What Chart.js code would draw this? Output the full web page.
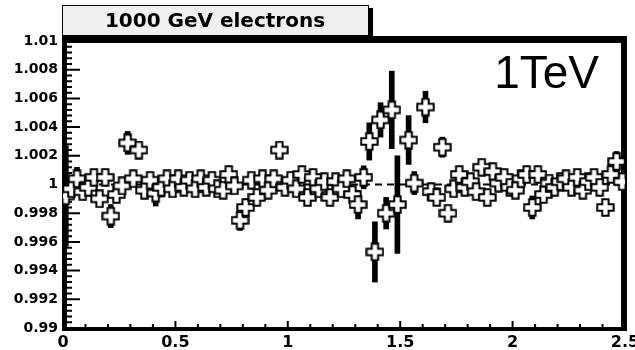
<!DOCTYPE html>
<html>
<head>
<meta charset="utf-8">
<script src="https://cdn.jsdelivr.net/npm/chart.js@4.4.0/dist/chart.umd.min.js"></script>
<style>
body { margin: 0; background: #fff; }
#wrap { width: 635px; height: 350px; }
</style>
</head>
<body>
<div id="wrap"><canvas id="ratio_chart" width="635" height="350"></canvas></div>
<script>
// CHART DATA
const binCenters = [
	0.0125, 0.0375, 0.0625, 0.0875, 0.1125, 0.1375, 0.1625, 0.1875, 0.2125, 0.2375,
	0.2625, 0.2875, 0.3125, 0.3375, 0.3625, 0.3875, 0.4125, 0.4375, 0.4625, 0.4875,
	0.5125, 0.5375, 0.5625, 0.5875, 0.6125, 0.6375, 0.6625, 0.6875, 0.7125, 0.7375,
	0.7625, 0.7875, 0.8125, 0.8375, 0.8625, 0.8875, 0.9125, 0.9375, 0.9625, 0.9875,
	1.0125, 1.0375, 1.0625, 1.0875, 1.1125, 1.1375, 1.1625, 1.1875, 1.2125, 1.2375,
	1.2625, 1.2875, 1.3125, 1.3375, 1.3625, 1.3875, 1.4125, 1.4375, 1.4625, 1.4875,
	1.5125, 1.5375, 1.5625, 1.5875, 1.6125, 1.6375, 1.6625, 1.6875, 1.7125, 1.7375,
	1.7625, 1.7875, 1.8125, 1.8375, 1.8625, 1.8875, 1.9125, 1.9375, 1.9625, 1.9875,
	2.0125, 2.0375, 2.0625, 2.0875, 2.1125, 2.1375, 2.1625, 2.1875, 2.2125, 2.2375,
	2.2625, 2.2875, 2.3125, 2.3375, 2.3625, 2.3875, 2.4125, 2.4375, 2.4625, 2.4875
];
const ratioValues = [
	0.9992, 0.9997, 1.0004, 0.9995, 0.9998, 1.0005, 0.9990, 1.0005, 0.9978, 0.9993,
	0.9999, 1.0029, 1.0004, 1.0024, 0.9996, 1.0003, 0.9994, 0.9998, 1.0004, 0.9997,
	1.0004, 0.9998, 1.0003, 0.9997, 1.0004, 0.9998, 1.0003, 0.9997, 0.9996, 1.0007,
	0.9999, 0.9975, 0.9984, 1.0003, 0.9991, 1.0004, 0.9996, 1.0004, 1.0024, 0.9998,
	1.0003, 0.9997, 1.0007, 0.9991, 1.0005, 0.9997, 1.0002, 0.9991, 1.0002, 0.9997,
	1.0004, 0.9993, 0.9986, 1.0005, 1.0030, 0.9953, 1.0045, 0.9980, 1.0052, 0.9986,
	null, 1.0031, 1.0001, null, 1.0054, 0.9995, 0.9991, 1.0026, 0.9980, 0.9997,
	1.0007, 0.9998, 1.0002, 0.9995, 1.0012, 0.9991, 1.0009, 1.0001, 1.0005, 0.9998,
	0.9996, 1.0004, 1.0007, 0.9984, 1.0007, 0.9993, 1.0001, 0.9998, 1.0002, 1.0004,
	0.9998, 1.0005, 0.9996, 1.0002, 1.0005, 0.9998, 0.9984, 1.0007, 1.0016, 1.0002
];
const ratioErrors = [
	0.0035, 0.0003, 0.0008, 0.0003, 0.0003, 0.0003, 0.0003, 0.0003, 0.0008, 0.0003,
	0.0003, 0.0008, 0.0003, 0.0006, 0.0003, 0.0003, 0.0009, 0.0003, 0.0003, 0.0003,
	0.0003, 0.0003, 0.0003, 0.0003, 0.0003, 0.0003, 0.0003, 0.0003, 0.0003, 0.0003,
	0.0003, 0.0007, 0.0006, 0.0003, 0.0003, 0.0003, 0.0003, 0.0003, 0.0004, 0.0003,
	0.0003, 0.0003, 0.0003, 0.0003, 0.0003, 0.0003, 0.0003, 0.0003, 0.0003, 0.0003,
	0.0003, 0.0005, 0.0010, 0.0008, 0.0013, 0.0021, 0.0012, 0.0011, 0.0027, 0.0034,
	null, 0.0017, 0.0008, null, 0.0011, 0.0003, 0.0003, 0.0007, 0.0005, 0.0003,
	0.0003, 0.0003, 0.0003, 0.0003, 0.0003, 0.0003, 0.0003, 0.0003, 0.0003, 0.0003,
	0.0003, 0.0003, 0.0003, 0.0008, 0.0003, 0.0003, 0.0003, 0.0003, 0.0003, 0.0003,
	0.0003, 0.0003, 0.0003, 0.0003, 0.0003, 0.0003, 0.0003, 0.0003, 0.0007, 0.0003
];
const referenceLevel = 1;
const xRange = [0, 2.5];
const yRange = [0.99, 1.01];
const titleText = '1000 GeV electrons';
const energyText = '1TeV';

// BUILD DATASETS
let marker_points = [], error_bars = [];
binCenters.forEach((x, i) => {
	if (ratioValues[i] === null) return;
	marker_points.push({ x: x, y: ratioValues[i] });
	error_bars.push({ x: x, y: [ratioValues[i] - ratioErrors[i], ratioValues[i] + ratioErrors[i]] });
});

// OPEN CROSS MARKER (root style 28)
function makeCross() {
	const c = document.createElement('canvas');
	c.width = 19; c.height = 19;
	const g = c.getContext('2d');
	const m = 9.5, a = 3.2, l = 8.2;
	g.beginPath();
	g.moveTo(m - a, m - l); g.lineTo(m + a, m - l); g.lineTo(m + a, m - a);
	g.lineTo(m + l, m - a); g.lineTo(m + l, m + a); g.lineTo(m + a, m + a);
	g.lineTo(m + a, m + l); g.lineTo(m - a, m + l); g.lineTo(m - a, m + a);
	g.lineTo(m - l, m + a); g.lineTo(m - l, m - a); g.lineTo(m - a, m - a);
	g.closePath();
	g.fillStyle = '#fff';
	g.fill();
	g.lineWidth = 2;
	g.strokeStyle = '#000';
	g.stroke();
	return c;
}

// FRAME, TICKS AND TEXTS
const rootStyle = {
	id: 'rootStyle',
	beforeDatasetsDraw(chart) {
		const { ctx, chartArea: a, scales } = chart;
		ctx.save();
		ctx.fillStyle = '#000';
		ctx.fillRect(a.left - 1, a.top - 5, a.right - a.left + 3, 7);
		ctx.fillRect(a.left - 1, a.top - 5, 5, a.bottom - a.top + 8);
		ctx.fillRect(a.left - 1, a.bottom - 1, a.right - a.left + 3, 4);
		ctx.fillRect(a.right - 4, a.top - 5, 6, a.bottom - a.top + 8);

		ctx.strokeStyle = '#000';
		ctx.lineWidth = 2;
		ctx.beginPath();
		for (let k = 0; k <= 25; k++) {
			const px = scales.x.getPixelForValue(k * 0.1);
			const len = k % 5 === 0 ? 7 : 4;
			ctx.moveTo(px, a.bottom);
			ctx.lineTo(px, a.bottom - len);
		}
		for (let k = 0; k <= 50; k++) {
			const py = scales.y.getPixelForValue(yRange[0] + k * 0.0004);
			const len = k % 5 === 0 ? 17 : 9;
			ctx.moveTo(a.left, py);
			ctx.lineTo(a.left + len, py);
		}
		ctx.stroke();
		ctx.restore();
	},
	afterDraw(chart) {
		const { ctx } = chart;
		ctx.save();
		ctx.fillStyle = '#000';
		ctx.fillRect(368, 8, 5, 30);
		ctx.fillStyle = '#f0f0f0';
		ctx.fillRect(62, 5, 306, 31);
		ctx.strokeStyle = '#000';
		ctx.lineWidth = 1;
		ctx.strokeRect(62.5, 5.5, 306, 30);
		ctx.fillStyle = '#000';
		ctx.textAlign = 'center';
		ctx.textBaseline = 'alphabetic';
		ctx.font = 'bold 20px "DejaVu Sans"';
		ctx.fillText(titleText, 215, 27);
		ctx.textAlign = 'right';
		ctx.font = '46px "Liberation Sans"';
		ctx.fillText(energyText, 599, 88);
		ctx.restore();
	}
};

const ctx = document.getElementById('ratio_chart').getContext('2d');
const my_chart = new Chart(ctx, {
	type: 'scatter',
	data: {
		datasets: [{
			type: 'bar',
			data: error_bars,
			backgroundColor: '#000',
			borderWidth: 0,
			barThickness: 5,
			order: 3
		}, {
			type: 'line',
			data: [{ x: xRange[0], y: referenceLevel }, { x: xRange[1], y: referenceLevel }],
			borderColor: '#000',
			borderWidth: 2,
			borderDash: [7, 5],
			pointRadius: 0,
			order: 2
		}, {
			type: 'scatter',
			data: marker_points,
			pointStyle: makeCross(),
			pointRadius: 9,
			order: 1
		}]
	},
	options: {
		responsive: false,
		animation: false,
		layout: { padding: { top: 41, right: 8, left: 0, bottom: 0 } },
		plugins: { legend: { display: false }, tooltip: { enabled: false } },
		scales: {
			x: {
				type: 'linear',
				offset: false,
				min: xRange[0],
				max: xRange[1],
				grid: { display: false, drawTicks: false, offset: false },
				border: { display: false },
				ticks: {
					stepSize: 0.5,
					autoSkip: false,
					maxRotation: 0,
					padding: 5,
					color: '#000',
					font: { family: 'DejaVu Sans', weight: 'bold', size: 16 },
					callback: v => Number(v.toFixed(2)).toString()
				},
				afterFit: s => { s.height = 22; s.paddingLeft = 0; s.paddingRight = 0; }
			},
			y: {
				min: yRange[0],
				max: yRange[1],
				grid: { display: false, drawTicks: false },
				border: { display: false },
				ticks: {
					stepSize: 0.002,
					autoSkip: false,
					padding: 5,
					color: '#000',
					font: { family: 'DejaVu Sans', weight: 'bold', size: 14 },
					callback: v => Number(v.toFixed(3)).toString()
				},
				afterFit: s => { s.width = 63; s.paddingTop = 0; s.paddingBottom = 0; }
			}
		}
	},
	plugins: [rootStyle]
});
</script>
</body>
</html>
